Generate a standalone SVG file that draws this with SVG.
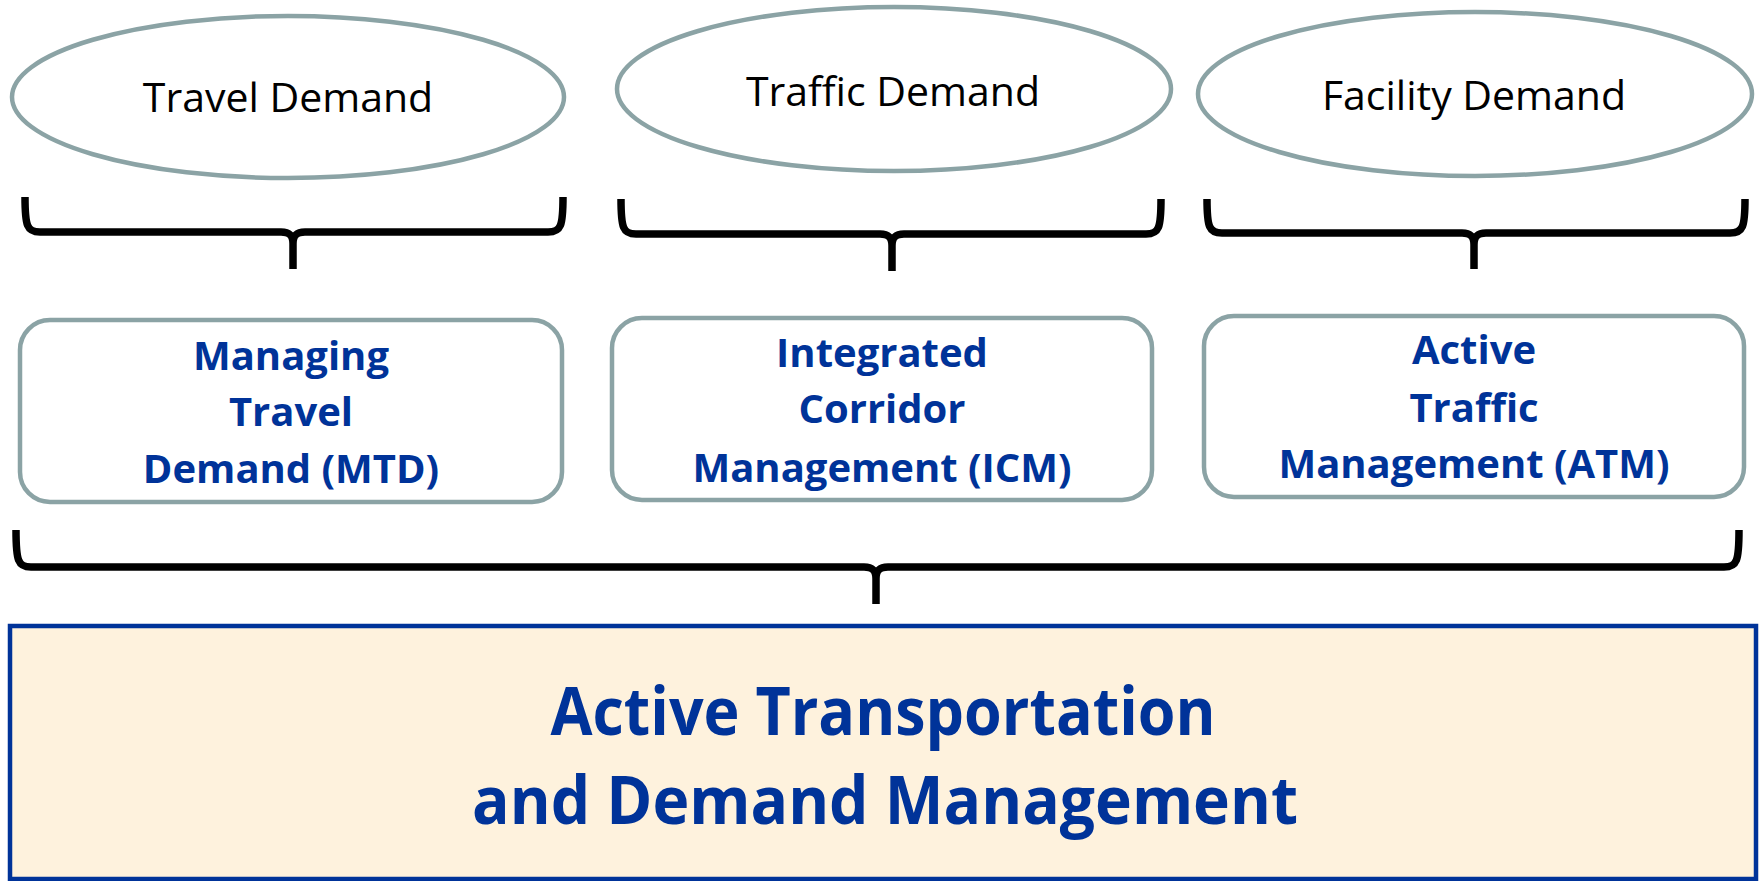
<svg xmlns="http://www.w3.org/2000/svg" width="1761" height="881" viewBox="0 0 1761 881">
<style>
.ell{fill:#fff;stroke:#8ba3a5;stroke-width:4.5}
.box{fill:#fff;stroke:#8ba3a5;stroke-width:4.5}
.brace{fill:none;stroke:#000;stroke-width:7.5;stroke-linejoin:round}
.t1{font-family:"Open Sans","Liberation Sans",sans-serif;font-size:41px;fill:#000;text-anchor:middle}
.t2{font-family:"Open Sans","Liberation Sans",sans-serif;font-size:40px;font-weight:bold;fill:#003399;text-anchor:middle}
.t3{font-family:"Open Sans","Liberation Sans",sans-serif;font-size:66px;font-weight:bold;fill:#003399;text-anchor:middle}
</style>
<rect width="1761" height="881" fill="#fff"/>
<g id="travel-demand">
<ellipse class="ell" cx="288" cy="97" rx="276" ry="81"/>
<text class="t1" x="288" y="112">Travel Demand</text>
</g>
<g id="traffic-demand">
<ellipse class="ell" cx="894" cy="89" rx="277" ry="82"/>
<text class="t1" x="893" y="106">Traffic Demand</text>
</g>
<g id="facility-demand">
<ellipse class="ell" cx="1475" cy="94" rx="277" ry="82"/>
<text class="t1" x="1474" y="110">Facility Demand</text>
</g>
<g id="mtd">
<rect class="box" x="20" y="320" width="542" height="182" rx="30"/>
<text class="t2" x="291" y="370">Managing</text>
<text class="t2" x="291" y="426">Travel</text>
<text class="t2" x="291" y="483">Demand (MTD)</text>
</g>
<g id="icm">
<rect class="box" x="612" y="318" width="540" height="182" rx="30"/>
<text class="t2" x="882" y="367">Integrated</text>
<text class="t2" x="882" y="423">Corridor</text>
<text class="t2" x="882" y="482">Management (ICM)</text>
</g>
<g id="atm">
<rect class="box" x="1204" y="316" width="540" height="181" rx="30"/>
<text class="t2" x="1474" y="364">Active</text>
<text class="t2" x="1474" y="422">Traffic</text>
<text class="t2" x="1474" y="478">Management (ATM)</text>
</g>
<g id="atdm">
<rect x="10" y="626" width="1746" height="253" fill="#fef2dd" stroke="#003399" stroke-width="4.5"/>
<text class="t3" x="883" y="735" textLength="665" lengthAdjust="spacingAndGlyphs">Active Transportation</text>
<text class="t3" x="885" y="824" textLength="826" lengthAdjust="spacingAndGlyphs">and Demand Management</text>
</g>
<g id="connectors">
<path class="brace" d="M25,197 C25,226 27,232 40,232 L281,232 C290,232 293,236 293,244 L293,269 M293,244 C293,236 296,232 305,232 L548,232 C561,232 563,226 563,197"/>
<path class="brace" d="M621,199 C621,228 623,234 636,234 L880,234 C889,234 892,238 892,246 L892,271 M892,246 C892,238 895,234 904,234 L1146,234 C1159,234 1161,228 1161,199"/>
<path class="brace" d="M1207,199 C1207,227 1209,233 1222,233 L1462,233 C1471,233 1474,237 1474,245 L1474,269 M1474,245 C1474,237 1477,233 1486,233 L1730,233 C1743,233 1745,227 1745,199"/>
<path class="brace" d="M16,530 C16,561 18,567 31,567 L864,567 C873,567 876,571 876,579 L876,604 M876,579 C876,571 879,567 888,567 L1724,567 C1737,567 1739,561 1739,530"/>
</g>
</svg>
